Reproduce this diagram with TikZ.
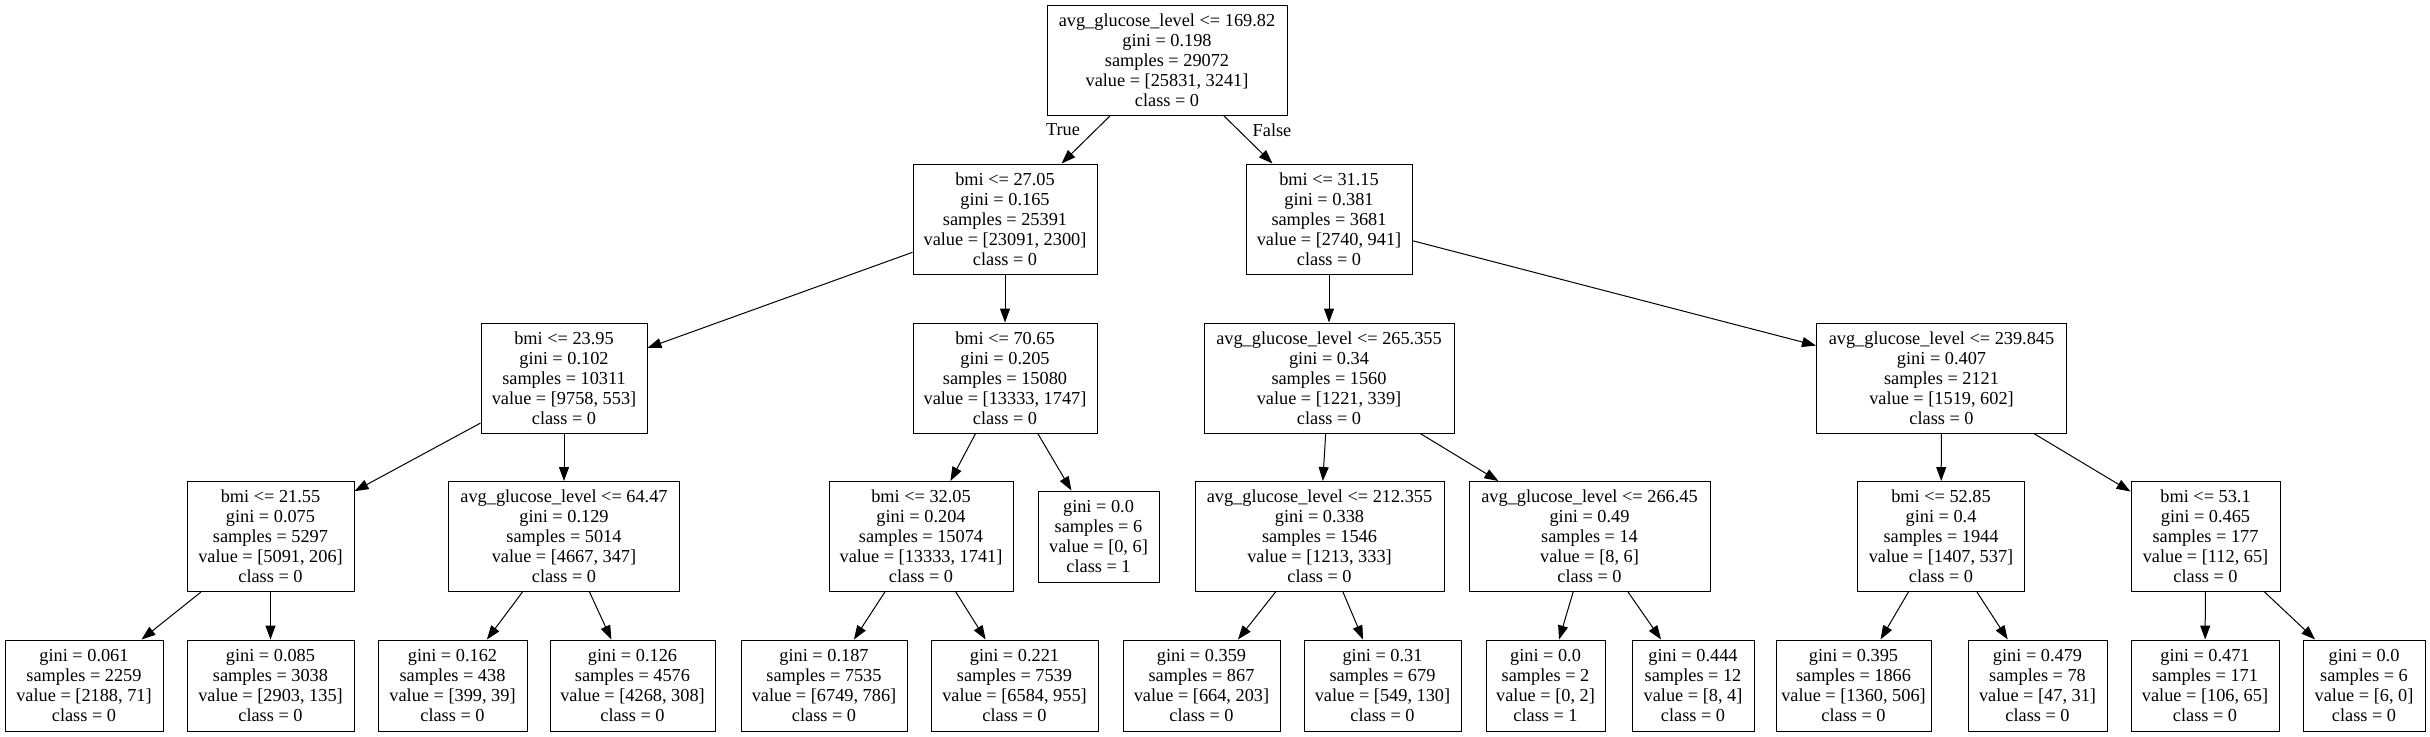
\documentclass[tikz,border=0pt]{standalone}
\usepackage{fontspec}
\setmainfont{Liberation Serif}
\usetikzlibrary{arrows.meta}
\begin{document}
\begin{tikzpicture}[x=0.5pt,y=-0.5pt,
  every node/.style={font=\fontsize{9.15}{10}\selectfont},
  tn/.style={draw=black,line width=0.5pt,rectangle,align=center,inner sep=0pt,minimum height=55pt},
  lf/.style={draw=black,line width=0.5pt,rectangle,align=center,inner sep=0pt,minimum height=45.5pt},
  ed/.style={draw=black,line width=0.5pt,-{Triangle[length=7pt,width=5pt]}},
  lbl/.style={inner sep=0pt}]
\useasboundingbox (0,0) rectangle (2430,736);
\fill[white] (0,0) rectangle (2430,736);
% level 0
\node[tn,minimum width=120pt] (r) at (1167,60) {avg\_glucose\_level <= 169.82\\gini = 0.198\\samples = 29072\\value = [25831, 3241]\\class = 0};
% level 1
\node[tn,minimum width=92pt] (a) at (1005,219) {bmi <= 27.05\\gini = 0.165\\samples = 25391\\value = [23091, 2300]\\class = 0};
\node[tn,minimum width=83pt] (b) at (1329,219) {bmi <= 31.15\\gini = 0.381\\samples = 3681\\value = [2740, 941]\\class = 0};
% level 2
\node[tn,minimum width=83pt] (c) at (564,378) {bmi <= 23.95\\gini = 0.102\\samples = 10311\\value = [9758, 553]\\class = 0};
\node[tn,minimum width=92pt] (d) at (1005,378) {bmi <= 70.65\\gini = 0.205\\samples = 15080\\value = [13333, 1747]\\class = 0};
\node[tn,minimum width=125pt] (e) at (1329,378) {avg\_glucose\_level <= 265.355\\gini = 0.34\\samples = 1560\\value = [1221, 339]\\class = 0};
\node[tn,minimum width=125pt] (f) at (1941.5,378) {avg\_glucose\_level <= 239.845\\gini = 0.407\\samples = 2121\\value = [1519, 602]\\class = 0};
% level 3
\node[tn,minimum width=83.5pt] (g) at (270.5,536.5) {bmi <= 21.55\\gini = 0.075\\samples = 5297\\value = [5091, 206]\\class = 0};
\node[tn,minimum width=115.5pt] (h) at (564,536.5) {avg\_glucose\_level <= 64.47\\gini = 0.129\\samples = 5014\\value = [4667, 347]\\class = 0};
\node[tn,minimum width=92pt] (i) at (921,536.5) {bmi <= 32.05\\gini = 0.204\\samples = 15074\\value = [13333, 1741]\\class = 0};
\node[lf,minimum width=60.5pt] (j) at (1098.5,536.5) {gini = 0.0\\samples = 6\\value = [0, 6]\\class = 1};
\node[tn,minimum width=124.5pt] (k) at (1319.5,536.5) {avg\_glucose\_level <= 212.355\\gini = 0.338\\samples = 1546\\value = [1213, 333]\\class = 0};
\node[tn,minimum width=120.5pt] (l) at (1589.5,536.5) {avg\_glucose\_level <= 266.45\\gini = 0.49\\samples = 14\\value = [8, 6]\\class = 0};
\node[tn,minimum width=83.5pt] (m) at (1941,536.5) {bmi <= 52.85\\gini = 0.4\\samples = 1944\\value = [1407, 537]\\class = 0};
\node[tn,minimum width=74.5pt] (n) at (2205.5,536.5) {bmi <= 53.1\\gini = 0.465\\samples = 177\\value = [112, 65]\\class = 0};
% level 4
\node[lf,minimum width=79pt] (l1) at (84,685.5) {gini = 0.061\\samples = 2259\\value = [2188, 71]\\class = 0};
\node[lf,minimum width=83.5pt] (l2) at (270.5,685.5) {gini = 0.085\\samples = 3038\\value = [2903, 135]\\class = 0};
\node[lf,minimum width=74.5pt] (l3) at (452.5,685.5) {gini = 0.162\\samples = 438\\value = [399, 39]\\class = 0};
\node[lf,minimum width=82.5pt] (l4) at (632.5,685.5) {gini = 0.126\\samples = 4576\\value = [4268, 308]\\class = 0};
\node[lf,minimum width=83pt] (l5) at (824,685.5) {gini = 0.187\\samples = 7535\\value = [6749, 786]\\class = 0};
\node[lf,minimum width=83.5pt] (l6) at (1014.5,685.5) {gini = 0.221\\samples = 7539\\value = [6584, 955]\\class = 0};
\node[lf,minimum width=78.5pt] (l7) at (1201.5,685.5) {gini = 0.359\\samples = 867\\value = [664, 203]\\class = 0};
\node[lf,minimum width=78.5pt] (l8) at (1382.5,685.5) {gini = 0.31\\samples = 679\\value = [549, 130]\\class = 0};
\node[lf,minimum width=59.5pt] (l9) at (1545.5,685.5) {gini = 0.0\\samples = 2\\value = [0, 2]\\class = 1};
\node[lf,minimum width=61pt] (l10) at (1693,685.5) {gini = 0.444\\samples = 12\\value = [8, 4]\\class = 0};
\node[lf,minimum width=77.5pt] (l11) at (1853.5,685.5) {gini = 0.395\\samples = 1866\\value = [1360, 506]\\class = 0};
\node[lf,minimum width=69.5pt] (l12) at (2037.5,685.5) {gini = 0.479\\samples = 78\\value = [47, 31]\\class = 0};
\node[lf,minimum width=74pt] (l13) at (2205,685.5) {gini = 0.471\\samples = 171\\value = [106, 65]\\class = 0};
\node[lf,minimum width=61pt] (l14) at (2364,685.5) {gini = 0.0\\samples = 6\\value = [6, 0]\\class = 0};
% edge labels
\node[lbl] (tt) at (1063,130) {True};
\node[lbl] (ff) at (1272,130) {False};
% edges
\draw[ed] (r) -- (a);
\draw[ed] (r) -- (b);
\draw[ed] (a) -- (c);
\draw[ed] (a) -- (d);
\draw[ed] (c) -- (g);
\draw[ed] (c) -- (h);
\draw[ed] (g) -- (l1);
\draw[ed] (g) -- (l2);
\draw[ed] (h) -- (l3);
\draw[ed] (h) -- (l4);
\draw[ed] (d) -- (i);
\draw[ed] (d) -- (j);
\draw[ed] (i) -- (l5);
\draw[ed] (i) -- (l6);
\draw[ed] (b) -- (e);
\draw[ed] (b) -- (f);
\draw[ed] (e) -- (k);
\draw[ed] (e) -- (l);
\draw[ed] (k) -- (l7);
\draw[ed] (k) -- (l8);
\draw[ed] (l) -- (l9);
\draw[ed] (l) -- (l10);
\draw[ed] (f) -- (m);
\draw[ed] (f) -- (n);
\draw[ed] (m) -- (l11);
\draw[ed] (m) -- (l12);
\draw[ed] (n) -- (l13);
\draw[ed] (n) -- (l14);
\end{tikzpicture}
\end{document}
